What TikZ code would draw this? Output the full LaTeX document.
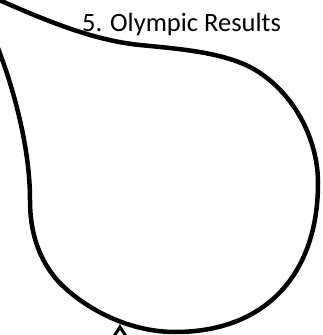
\documentclass[tikz,border=0pt]{standalone}
\usepackage{fontspec}
\setmainfont{Carlito}
\begin{document}
\begin{tikzpicture}[x=1pt,y=-1pt,
  outline/.style={line width=4.5pt,line join=round,line cap=round},
  title/.style={font=\fontsize{26.5}{30}\selectfont,anchor=base,inner sep=0pt}]
\useasboundingbox (0,0) rectangle (322,335);
\clip (0,0) rectangle (322,335);
\draw[outline] (-10,-4) .. controls (40,18) and (90,40) .. (140,45)
  .. controls (180,49) and (220,52) .. (250,67)
  .. controls (290,88) and (318,135) .. (318,183)
  .. controls (318,275) and (265,332) .. (175,332)
  .. controls (125,332) and (80,305) .. (57,280)
  .. controls (40,260) and (30,235) .. (30,200)
  .. controls (30,150) and (15,90) .. (-6,38);
\node[title] (t) at (181.5,31) {5. Olympic Results};
\draw[line width=3pt,line join=miter] (113,338) -- (120,327) -- (127,338);
\end{tikzpicture}
\end{document}
